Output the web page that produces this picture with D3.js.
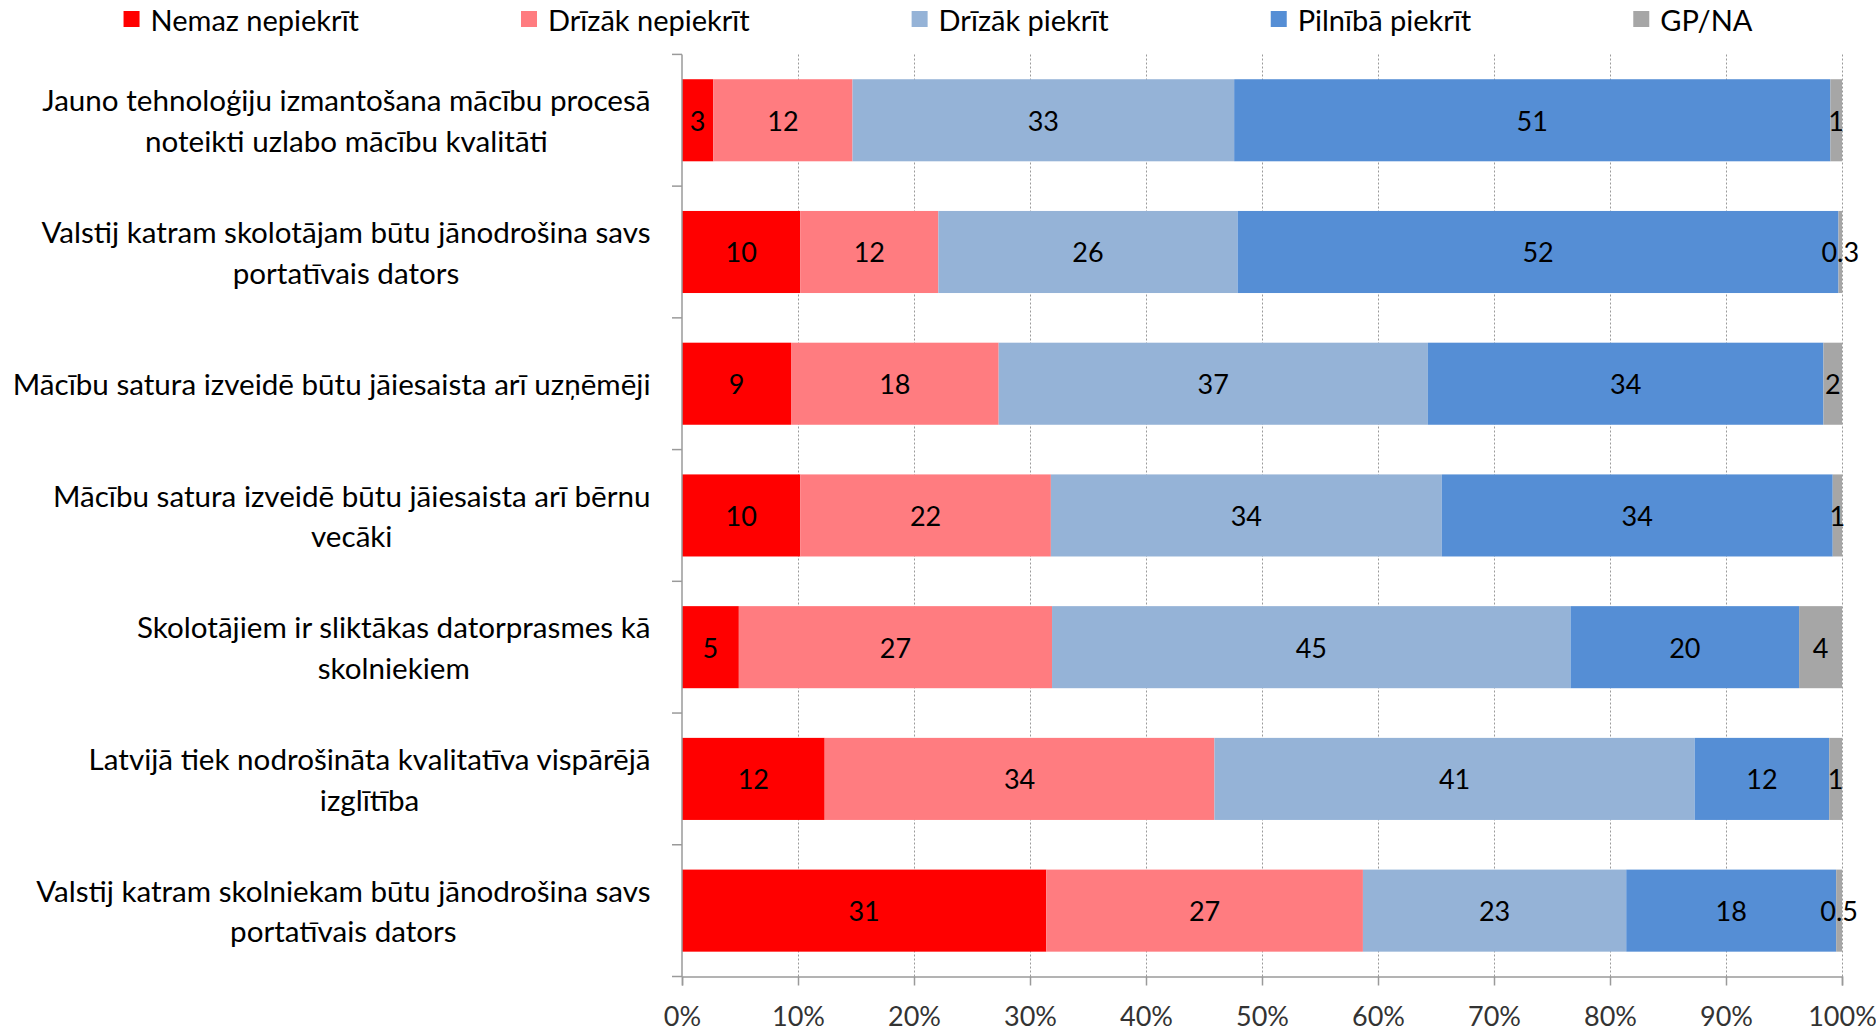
<!DOCTYPE html>
<html><head><meta charset="utf-8">
<script src="https://cdn.jsdelivr.net/npm/d3@7"></script>
<style>body{margin:0;background:#fff} svg{display:block} text{font-family:Lato, "Open Sans", sans-serif}</style>
</head><body><svg id="c" width="1876" height="1034"></svg>
<script>
// ---- data ----
const categories = [
  "Jauno tehnoloģiju izmantošana mācību procesā\nnoteikti uzlabo mācību kvalitāti",
  "Valstij katram skolotājam būtu jānodrošina savs\nportatīvais dators",
  "Mācību satura izveidē būtu jāiesaista arī uzņēmēji",
  "Mācību satura izveidē būtu jāiesaista arī bērnu\nvecāki",
  "Skolotājiem ir sliktākas datorprasmes kā\nskolniekiem",
  "Latvijā tiek nodrošināta kvalitatīva vispārējā\nizglītība",
  "Valstij katram skolniekam būtu jānodrošina savs\nportatīvais dators"
];
const seriesNames = ["Nemaz nepiekrīt", "Drīzāk nepiekrīt", "Drīzāk piekrīt", "Pilnībā piekrīt", "GP/NA"];
const nemazNepiekrit   = [2.7, 10.2, 9.4, 10.2, 4.9, 12.3, 31.4];
const drizakNepiekrit  = [12.0, 11.9, 17.9, 21.6, 27.0, 33.6, 27.3];
const drizakPiekrit    = [32.9, 25.8, 37.0, 33.7, 44.7, 41.4, 22.7];
const pilnibaPiekrit   = [51.4, 51.8, 34.1, 33.7, 19.7, 11.6, 18.1];
const gpNa             = [1.0, 0.3, 1.6, 0.8, 3.7, 1.1, 0.5];
const xTicks = [0, 0.1, 0.2, 0.3, 0.4, 0.5, 0.6, 0.7, 0.8, 0.9, 1.0];
const colors = ["#FF0000", "#FF7C80", "#95B3D7", "#558ED5", "#A6A6A6"];

const seriesValues = [nemazNepiekrit, drizakNepiekrit, drizakPiekrit, pilnibaPiekrit, gpNa];
const table = categories.map((c, i) => {
  const row = {cat: i};
  seriesNames.forEach((s, j) => row[s] = seriesValues[j][i]);
  return row;
});

// ---- layout ----
const W = 1876, H = 1034;
const plot = {left: 682, right: 1842, top: 54.4, bottom: 976.5};
const numSize = 27, catSize = 29.6, legSize = 29;
const svg = d3.select("#c");

const x = d3.scaleLinear().domain([0, 1]).range([plot.left, plot.right]);
const y = d3.scaleBand().domain(d3.range(categories.length))
  .range([plot.top, plot.bottom]).paddingInner(0.377).paddingOuter(0.1885);

const stack = d3.stack().keys(seriesNames).offset(d3.stackOffsetExpand);
const stacked = stack(table);

// gridlines
svg.append("g").attr("transform", `translate(0,${plot.bottom})`)
  .call(d3.axisBottom(x).tickValues(xTicks.slice(1)).tickSize(-(plot.bottom - plot.top)).tickFormat(""))
  .call(g => g.select(".domain").remove())
  .call(g => g.selectAll("line").attr("stroke", "#9a9a9a").attr("stroke-width", 1).attr("stroke-dasharray", "2,2"));

// bars
const layers = svg.append("g").selectAll("g").data(stacked).join("g")
  .attr("fill", (d, i) => colors[i]);
layers.selectAll("rect").data(d => d).join("rect")
  .attr("x", d => x(d[0]))
  .attr("width", d => x(d[1]) - x(d[0]))
  .attr("y", d => y(d.data.cat))
  .attr("height", y.bandwidth());

// data labels
const fmt = v => v < 0.75 ? d3.format(".1f")(v) : d3.format(".0f")(v);
stacked.forEach((layer, i) => {
  svg.append("g").selectAll("text").data(layer).join("text")
    .attr("x", d => (x(d[0]) + x(d[1])) / 2)
    .attr("y", d => y(d.data.cat) + y.bandwidth() / 2)
    .attr("text-anchor", "middle")
    .attr("dominant-baseline", "central")
    .attr("font-size", numSize)
    .attr("fill", "#000")
    .text(d => fmt(d.data[layer.key]));
});

// x axis
svg.append("g").attr("transform", `translate(0,${plot.bottom})`)
  .call(d3.axisBottom(x).tickValues(xTicks).tickSize(9).tickPadding(21).tickFormat(d3.format(".0%")))
  .call(g => g.select(".domain").attr("stroke", "#9a9a9a").attr("stroke-width", 1.5))
  .call(g => g.selectAll(".tick line").attr("stroke", "#9a9a9a").attr("stroke-width", 1.5))
  .call(g => g.selectAll(".tick text").attr("font-size", numSize).attr("fill", "#333").attr("font-family", "Lato"));

// y axis line and separators
const sepY = d3.range(categories.length + 1).map(i => plot.top + i * y.step());
svg.append("line").attr("x1", plot.left).attr("x2", plot.left).attr("y1", plot.top).attr("y2", plot.bottom)
  .attr("stroke", "#9a9a9a").attr("stroke-width", 1.5);
svg.append("g").selectAll("line").data(sepY).join("line")
  .attr("x1", plot.left - 10).attr("x2", plot.left).attr("y1", d => d).attr("y2", d => d)
  .attr("stroke", "#9a9a9a").attr("stroke-width", 1.5);

// category labels
const labelRight = 650.5, lineH = 40.7;
categories.forEach((c, i) => {
  const lines = c.split("\n");
  const g = svg.append("g");
  const texts = g.selectAll("text").data(lines).join("text")
    .attr("font-size", catSize).attr("fill", "#000")
    .attr("text-anchor", "middle").attr("dominant-baseline", "central")
    .attr("y", (d, k) => y(i) + y.bandwidth() / 2 + (k - (lines.length - 1) / 2) * lineH)
    .text(d => d);
  const maxW = d3.max(texts.nodes(), n => n.getComputedTextLength());
  texts.attr("x", labelRight - maxW / 2);
});

// legend
const legend = svg.append("g");
const items = seriesNames.map((s, i) => {
  const g = legend.append("g");
  g.append("rect").attr("width", 16).attr("height", 16).attr("y", 11).attr("fill", colors[i]);
  const t = g.append("text").attr("x", 27).attr("y", 19).attr("dominant-baseline", "central")
    .attr("font-size", legSize).attr("fill", "#000").text(s);
  return {g, w: 27 + t.node().getComputedTextLength()};
});
const gap = 162;
const total = d3.sum(items, d => d.w) + gap * (items.length - 1);
let cx = W / 2 - total / 2;
items.forEach(it => { it.g.attr("transform", `translate(${cx},0)`); cx += it.w + gap; });
</script></body></html>
